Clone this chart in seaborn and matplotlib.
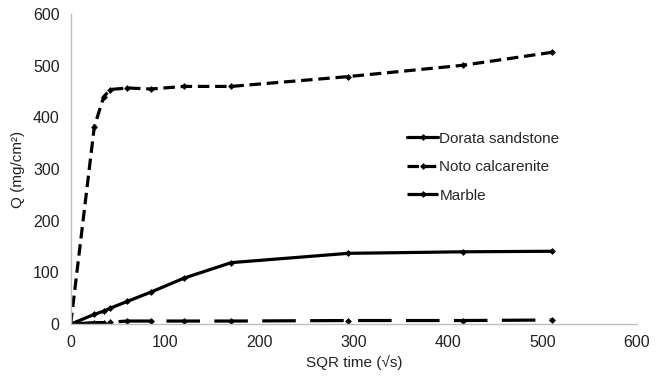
import matplotlib
matplotlib.use("Agg")
import matplotlib.pyplot as plt
import seaborn as sns
import pandas as pd

# --- Datos ---
sqr_time = [0, 25, 35, 42, 60, 85, 120, 170, 294, 416, 510]
dorata = [0, 19, 25, 31, 44, 62, 89, 119, 137, 140, 141]
noto = [0, 382, 440, 454, 457, 455, 460, 460, 479, 501, 526]
marble = [0, 3, 3, 4, 6, 6, 6, 6, 7, 7, 8]

series_names = ["Dorata sandstone", "Noto calcarenite", "Marble"]

df = pd.DataFrame({
    "t": sqr_time * 3,
    "Q": dorata + noto + marble,
    "serie": [series_names[0]] * len(sqr_time) + [series_names[1]] * len(sqr_time)
             + [series_names[2]] * len(sqr_time),
})

sns.set_style("white")
plt.rcParams["font.family"] = ["Liberation Sans", "DejaVu Sans"]

fig = plt.figure(figsize=(6.67, 3.8), dpi=100)
ax = fig.add_axes([0.106, 0.147, 0.849, 0.816])

estilos = {
    "Dorata sandstone": "-",
    "Noto calcarenite": (0, (3.6, 1.8)),
    "Marble": (0, (10.5, 4.5)),
}
for nombre in series_names:
    sub = df[df["serie"] == nombre]
    sns.lineplot(data=sub, x="t", y="Q", ax=ax, color="black", linewidth=2.3,
                 linestyle=estilos[nombre], marker="D", markersize=3.5,
                 markeredgewidth=0, label=nombre)

ax.set_xlim(0, 600)
ax.set_ylim(0, 600)
ax.set_xticks(range(0, 601, 100))
ax.set_yticks(range(0, 601, 100))
ax.tick_params(axis="both", length=0, labelsize=11.5, colors="#222222", pad=8)
ax.set_xlabel("SQR time (\u221as)", fontsize=11, color="#222222", labelpad=3)
ax.set_ylabel("Q (mg/cm\u00b2)", fontsize=11, color="#222222", labelpad=6)

for lado in ["top", "right"]:
    ax.spines[lado].set_visible(False)
ax.spines["left"].set_color("#bfbfbf")
ax.spines["bottom"].set_color("#bfbfbf")
ax.spines["left"].set_linewidth(1)
ax.spines["bottom"].set_linewidth(1)

leg = ax.legend(loc="upper left", bbox_to_anchor=(0.57, 0.665), frameon=False,
                fontsize=11, handlelength=2.0, handletextpad=0.1,
                labelspacing=0.95)

fig.savefig("out.png", dpi=100)
